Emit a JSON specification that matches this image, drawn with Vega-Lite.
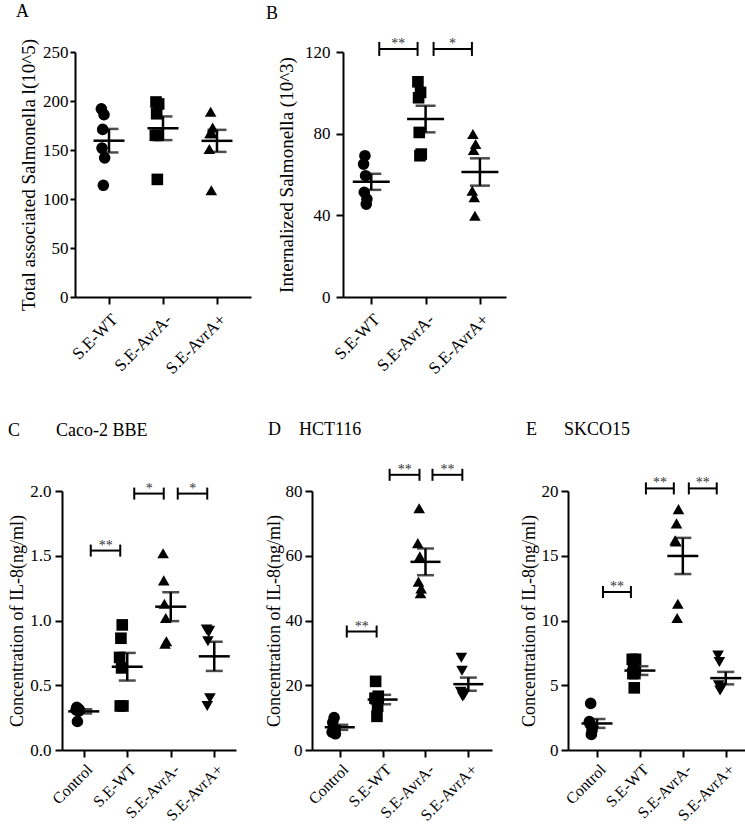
{
  "$schema": "https://vega.github.io/schema/vega-lite/v6.json",
  "padding": {"left": 8, "top": 2, "right": 0, "bottom": 0},
  "background": "white",
  "config": {
    "font": "Liberation Serif",
    "view": {"stroke": null},
    "axis": {"grid": false, "domainColor": "black", "domainWidth": 2, "tickColor": "black", "tickWidth": 2, "tickSize": 6, "labelFont": "Liberation Serif", "labelFontSize": 17, "labelColor": "black", "titleFont": "Liberation Serif", "titleFontSize": 19, "titleFontWeight": "normal", "titleColor": "black"},
    "axisX": {"labelAngle": -45, "title": null, "labelPadding": 3, "tickSize": 7},
    "title": {"anchor": "start", "frame": "group", "font": "Liberation Serif", "fontSize": 18, "fontWeight": "normal", "color": "black", "baseline": "alphabetic"},
    "point": {"filled": true, "color": "black", "opacity": 1, "size": 135},
    "tick": {"color": "black"},
    "rule": {"color": "black"},
    "text": {"color": "black"}
  },
  "datasets": {
    "A": [
      {"group": "S.E-WT", "rep": 1, "value": 192}, {"group": "S.E-WT", "rep": 2, "value": 152}, {"group": "S.E-WT", "rep": 3, "value": 171}, {"group": "S.E-WT", "rep": 4, "value": 114}, {"group": "S.E-WT", "rep": 5, "value": 186}, {"group": "S.E-WT", "rep": 6, "value": 142},
      {"group": "S.E-AvrA-", "rep": 1, "value": 165}, {"group": "S.E-AvrA-", "rep": 2, "value": 199}, {"group": "S.E-AvrA-", "rep": 3, "value": 187}, {"group": "S.E-AvrA-", "rep": 4, "value": 120}, {"group": "S.E-AvrA-", "rep": 5, "value": 165}, {"group": "S.E-AvrA-", "rep": 6, "value": 197},
      {"group": "S.E-AvrA+", "rep": 1, "value": 151}, {"group": "S.E-AvrA+", "rep": 2, "value": 167}, {"group": "S.E-AvrA+", "rep": 3, "value": 189}, {"group": "S.E-AvrA+", "rep": 4, "value": 109}, {"group": "S.E-AvrA+", "rep": 5, "value": 167}, {"group": "S.E-AvrA+", "rep": 6, "value": 173}
    ],
    "B": [
      {"group": "S.E-WT", "rep": 1, "value": 65.1}, {"group": "S.E-WT", "rep": 2, "value": 51.3}, {"group": "S.E-WT", "rep": 3, "value": 69.2}, {"group": "S.E-WT", "rep": 4, "value": 59.4}, {"group": "S.E-WT", "rep": 5, "value": 45.5}, {"group": "S.E-WT", "rep": 6, "value": 48.0},
      {"group": "S.E-AvrA-", "rep": 1, "value": 105.4}, {"group": "S.E-AvrA-", "rep": 2, "value": 97.6}, {"group": "S.E-AvrA-", "rep": 3, "value": 80.6}, {"group": "S.E-AvrA-", "rep": 4, "value": 69.2}, {"group": "S.E-AvrA-", "rep": 5, "value": 100.2}, {"group": "S.E-AvrA-", "rep": 6, "value": 70.0},
      {"group": "S.E-AvrA+", "rep": 1, "value": 52.0}, {"group": "S.E-AvrA+", "rep": 2, "value": 79.8}, {"group": "S.E-AvrA+", "rep": 3, "value": 72.0}, {"group": "S.E-AvrA+", "rep": 4, "value": 48.9}, {"group": "S.E-AvrA+", "rep": 5, "value": 39.8}, {"group": "S.E-AvrA+", "rep": 6, "value": 74.9}
    ],
    "C": [
      {"group": "Control", "rep": 1, "value": 0.31}, {"group": "Control", "rep": 2, "value": 0.33}, {"group": "Control", "rep": 3, "value": 0.22}, {"group": "Control", "rep": 4, "value": 0.32}, {"group": "Control", "rep": 5, "value": 0.30}, {"group": "Control", "rep": 6, "value": 0.31},
      {"group": "S.E-WT", "rep": 1, "value": 0.715}, {"group": "S.E-WT", "rep": 2, "value": 0.34}, {"group": "S.E-WT", "rep": 3, "value": 0.863}, {"group": "S.E-WT", "rep": 4, "value": 0.634}, {"group": "S.E-WT", "rep": 5, "value": 0.966}, {"group": "S.E-WT", "rep": 6, "value": 0.34},
      {"group": "S.E-AvrA-", "rep": 1, "value": 1.52}, {"group": "S.E-AvrA-", "rep": 2, "value": 1.31}, {"group": "S.E-AvrA-", "rep": 3, "value": 1.13}, {"group": "S.E-AvrA-", "rep": 4, "value": 0.82}, {"group": "S.E-AvrA-", "rep": 5, "value": 1.02}, {"group": "S.E-AvrA-", "rep": 6, "value": 0.84},
      {"group": "S.E-AvrA+", "rep": 1, "value": 0.93}, {"group": "S.E-AvrA+", "rep": 2, "value": 0.34}, {"group": "S.E-AvrA+", "rep": 3, "value": 0.84}, {"group": "S.E-AvrA+", "rep": 4, "value": 0.91}, {"group": "S.E-AvrA+", "rep": 5, "value": 0.92}, {"group": "S.E-AvrA+", "rep": 6, "value": 0.40}
    ],
    "D": [
      {"group": "Control", "rep": 1, "value": 5.5}, {"group": "Control", "rep": 2, "value": 8.5}, {"group": "Control", "rep": 3, "value": 7.0}, {"group": "Control", "rep": 4, "value": 10.0}, {"group": "Control", "rep": 5, "value": 6.0}, {"group": "Control", "rep": 6, "value": 5.0},
      {"group": "S.E-WT", "rep": 1, "value": 16.0}, {"group": "S.E-WT", "rep": 2, "value": 21.2}, {"group": "S.E-WT", "rep": 3, "value": 15.8}, {"group": "S.E-WT", "rep": 4, "value": 10.4}, {"group": "S.E-WT", "rep": 5, "value": 13.5}, {"group": "S.E-WT", "rep": 6, "value": 16.6},
      {"group": "S.E-AvrA-", "rep": 1, "value": 63.9}, {"group": "S.E-AvrA-", "rep": 2, "value": 52.0}, {"group": "S.E-AvrA-", "rep": 3, "value": 74.7}, {"group": "S.E-AvrA-", "rep": 4, "value": 59.8}, {"group": "S.E-AvrA-", "rep": 5, "value": 48.4}, {"group": "S.E-AvrA-", "rep": 6, "value": 49.9},
      {"group": "S.E-AvrA+", "rep": 1, "value": 18.0}, {"group": "S.E-AvrA+", "rep": 2, "value": 28.5}, {"group": "S.E-AvrA+", "rep": 3, "value": 24.5}, {"group": "S.E-AvrA+", "rep": 4, "value": 16.5}, {"group": "S.E-AvrA+", "rep": 5, "value": 17.5}, {"group": "S.E-AvrA+", "rep": 6, "value": 17.0}
    ],
    "E": [
      {"group": "Control", "rep": 1, "value": 2.2}, {"group": "Control", "rep": 2, "value": 2.0}, {"group": "Control", "rep": 3, "value": 3.6}, {"group": "Control", "rep": 4, "value": 1.2}, {"group": "Control", "rep": 5, "value": 1.5}, {"group": "Control", "rep": 6, "value": 1.8},
      {"group": "S.E-WT", "rep": 1, "value": 7.0}, {"group": "S.E-WT", "rep": 2, "value": 5.9}, {"group": "S.E-WT", "rep": 3, "value": 6.2}, {"group": "S.E-WT", "rep": 4, "value": 4.8}, {"group": "S.E-WT", "rep": 5, "value": 5.9}, {"group": "S.E-WT", "rep": 6, "value": 7.0},
      {"group": "S.E-AvrA-", "rep": 1, "value": 16.2}, {"group": "S.E-AvrA-", "rep": 2, "value": 16.1}, {"group": "S.E-AvrA-", "rep": 3, "value": 17.5}, {"group": "S.E-AvrA-", "rep": 4, "value": 10.2}, {"group": "S.E-AvrA-", "rep": 5, "value": 11.3}, {"group": "S.E-AvrA-", "rep": 6, "value": 18.6},
      {"group": "S.E-AvrA+", "rep": 1, "value": 7.3}, {"group": "S.E-AvrA+", "rep": 2, "value": 5.0}, {"group": "S.E-AvrA+", "rep": 3, "value": 6.8}, {"group": "S.E-AvrA+", "rep": 4, "value": 4.6}, {"group": "S.E-AvrA+", "rep": 5, "value": 4.8}, {"group": "S.E-AvrA+", "rep": 6, "value": 4.8}
    ],
    "brackets": [
      {"panel": "B", "g1": "S.E-WT", "g2": "S.E-AvrA-", "level": 121.5, "label": "**"},
      {"panel": "B", "g1": "S.E-AvrA-", "g2": "S.E-AvrA+", "level": 121.5, "label": "*"},
      {"panel": "C", "g1": "Control", "g2": "S.E-WT", "level": 1.54, "label": "**"},
      {"panel": "C", "g1": "S.E-WT", "g2": "S.E-AvrA-", "level": 1.98, "label": "*"},
      {"panel": "C", "g1": "S.E-AvrA-", "g2": "S.E-AvrA+", "level": 1.98, "label": "*"},
      {"panel": "D", "g1": "Control", "g2": "S.E-WT", "level": 36.6, "label": "**"},
      {"panel": "D", "g1": "S.E-WT", "g2": "S.E-AvrA-", "level": 85, "label": "**"},
      {"panel": "D", "g1": "S.E-AvrA-", "g2": "S.E-AvrA+", "level": 85, "label": "**"},
      {"panel": "E", "g1": "Control", "g2": "S.E-WT", "level": 12.2, "label": "**"},
      {"panel": "E", "g1": "S.E-WT", "g2": "S.E-AvrA-", "level": 20.2, "label": "**"},
      {"panel": "E", "g1": "S.E-AvrA-", "g2": "S.E-AvrA+", "level": 20.2, "label": "**"}
    ]
  },
  "bounds": "flush",
  "spacing": 439,
  "resolve": {"scale": {"shape": "independent"}},
  "vconcat": [
    {
      "bounds": "flush",
      "spacing": 0,
      "resolve": {"scale": {"shape": "independent"}},
      "hconcat": [
        {"width": 13, "height": 245, "data": {"values": []}, "mark": {"type": "point", "opacity": 0}, "encoding": {}},
        {
          "width": 176, "height": 245,
          "title": {"text": "A", "dx": -59, "offset": 18},
          "data": {"name": "A"},
          "encoding": {
            "x": {"field": "group", "type": "nominal", "scale": {"type": "point", "domain": ["S.E-WT", "S.E-AvrA-", "S.E-AvrA+"], "padding": 0.63, "align": 0.5}, "axis": {"labelPadding": 7}},
            "y": {"field": "value", "type": "quantitative", "scale": {"domain": [0, 250], "nice": false}, "axis": {"values": [0, 50, 100, 150, 200, 250], "title": "Total associated Salmonella l(10^5)", "tickSize": 5, "labelPadding": 2, "titlePadding": 4}}
          },
          "layer": [
            {"mark": {"type": "point", "filled": true}, "encoding": {
              "xOffset": {"field": "rep", "type": "ordinal", "scale": {"domain": [1, 2, 3, 4, 5, 6], "range": [-8, -4, 0, 0, 4, 8]}},
              "shape": {"field": "group", "type": "nominal", "scale": {"domain": ["S.E-WT", "S.E-AvrA-", "S.E-AvrA+"], "range": ["circle", "square", "triangle-up"]}, "legend": null}}},
            {"mark": {"type": "tick", "size": 31, "thickness": 2.5}, "encoding": {"y": {"aggregate": "mean", "field": "value", "type": "quantitative"}}},
            {"mark": {"type": "errorbar", "extent": "stderr", "ticks": true, "size": 19, "thickness": 2.5, "color": "black"}, "encoding": {}}
          ]
        },
        {"width": 92, "height": 245, "data": {"values": []}, "mark": {"type": "point", "opacity": 0}, "encoding": {}},
        {
          "width": 163, "height": 245,
          "title": {"text": "B", "dx": -77, "offset": 14},
          "layer": [
            {
              "data": {"name": "B"},
              "encoding": {
                "x": {"field": "group", "type": "nominal", "scale": {"type": "point", "domain": ["S.E-WT", "S.E-AvrA-", "S.E-AvrA+"], "padding": 0.5, "align": 0.52}, "axis": {"labelPadding": 7}},
                "y": {"field": "value", "type": "quantitative", "scale": {"domain": [0, 120], "nice": false}, "axis": {"values": [0, 40, 80, 120], "title": "Internalized Salmonella (10^3)", "tickSize": 7, "labelPadding": 6, "titlePadding": 8}}
              },
              "layer": [
                {"mark": {"type": "point", "filled": true}, "encoding": {
                  "xOffset": {"field": "rep", "type": "ordinal", "scale": {"domain": [1, 2, 3, 4, 5, 6], "range": [-8, -4, 0, 0, 4, 8]}},
                  "shape": {"field": "group", "type": "nominal", "scale": {"domain": ["S.E-WT", "S.E-AvrA-", "S.E-AvrA+"], "range": ["circle", "square", "triangle-up"]}, "legend": null}}},
                {"mark": {"type": "tick", "size": 37, "thickness": 2.5}, "encoding": {"y": {"aggregate": "mean", "field": "value", "type": "quantitative"}}},
                {"mark": {"type": "errorbar", "extent": "stderr", "ticks": true, "size": 20, "thickness": 2.5, "color": "black"}, "encoding": {}}
              ]
            },
            {
              "data": {"name": "brackets"},
              "transform": [{"filter": "datum.panel === 'B'"}],
              "layer": [
                {"mark": {"type": "rule", "strokeWidth": 2, "xOffset": 8, "x2Offset": -8}, "encoding": {"x": {"field": "g1", "type": "nominal"}, "x2": {"field": "g2"}, "y": {"field": "level", "type": "quantitative"}}},
                {"mark": {"type": "rule", "strokeWidth": 2, "xOffset": 8, "yOffset": -7, "y2Offset": 7}, "encoding": {"x": {"field": "g1", "type": "nominal"}, "y": {"field": "level", "type": "quantitative"}, "y2": {"field": "level"}}},
                {"mark": {"type": "rule", "strokeWidth": 2, "xOffset": -8, "yOffset": -7, "y2Offset": 7}, "encoding": {"x": {"field": "g2", "type": "nominal"}, "y": {"field": "level", "type": "quantitative"}, "y2": {"field": "level"}}},
                {"mark": {"type": "text", "fontSize": 14, "xOffset": 27, "yOffset": -1, "baseline": "alphabetic", "align": "center", "color": "#333333"}, "encoding": {"x": {"field": "g1", "type": "nominal"}, "y": {"field": "level", "type": "quantitative"}, "text": {"field": "label"}}}
              ]
            }
          ]
        }
      ]
    },
    {
      "bounds": "flush",
      "spacing": 76,
      "resolve": {"scale": {"shape": "independent"}},
      "hconcat": [
        {
          "width": 174, "height": 259,
          "title": {"text": "C\u00a0\u00a0\u00a0\u00a0\u00a0\u00a0\u00a0\u00a0Caco-2 BBE", "dx": -54, "offset": 42},
          "layer": [
            {
              "data": {"name": "C"},
              "encoding": {
                "x": {"field": "group", "type": "nominal", "scale": {"type": "point", "domain": ["Control", "S.E-WT", "S.E-AvrA-", "S.E-AvrA+"], "padding": 0.5, "align": 0.5}, "axis": {"labelFontSize": 16, "labelPadding": 4}},
                "y": {"field": "value", "type": "quantitative", "scale": {"domain": [0, 2], "nice": false}, "axis": {"values": [0, 0.5, 1, 1.5, 2], "format": ".1f", "title": "Concentration of IL-8(ng/ml)", "titleFontSize": 18, "tickSize": 7, "labelPadding": 4, "titlePadding": 3}}
              },
              "layer": [
                {"mark": {"type": "point", "filled": true}, "encoding": {
                  "xOffset": {"field": "rep", "type": "ordinal", "scale": {"domain": [1, 2, 3, 4, 5, 6], "range": [-8, -4, 0, 0, 4, 8]}},
                  "shape": {"field": "group", "type": "nominal", "scale": {"domain": ["Control", "S.E-WT", "S.E-AvrA-", "S.E-AvrA+"], "range": ["circle", "square", "triangle-up", "triangle-down"]}, "legend": null}}},
                {"mark": {"type": "tick", "size": 31, "thickness": 2.5}, "encoding": {"y": {"aggregate": "mean", "field": "value", "type": "quantitative"}}},
                {"mark": {"type": "errorbar", "extent": "stderr", "ticks": true, "size": 17, "thickness": 2.5, "color": "black"}, "encoding": {}}
              ]
            },
            {
              "data": {"name": "brackets"},
              "transform": [{"filter": "datum.panel === 'C'"}],
              "layer": [
                {"mark": {"type": "rule", "strokeWidth": 2, "xOffset": 7, "x2Offset": -7}, "encoding": {"x": {"field": "g1", "type": "nominal"}, "x2": {"field": "g2"}, "y": {"field": "level", "type": "quantitative"}}},
                {"mark": {"type": "rule", "strokeWidth": 2, "xOffset": 7, "yOffset": -6, "y2Offset": 6}, "encoding": {"x": {"field": "g1", "type": "nominal"}, "y": {"field": "level", "type": "quantitative"}, "y2": {"field": "level"}}},
                {"mark": {"type": "rule", "strokeWidth": 2, "xOffset": -7, "yOffset": -6, "y2Offset": 6}, "encoding": {"x": {"field": "g2", "type": "nominal"}, "y": {"field": "level", "type": "quantitative"}, "y2": {"field": "level"}}},
                {"mark": {"type": "text", "fontSize": 14, "xOffset": 22, "yOffset": -1, "baseline": "alphabetic", "align": "center", "color": "#333333"}, "encoding": {"x": {"field": "g1", "type": "nominal"}, "y": {"field": "level", "type": "quantitative"}, "text": {"field": "label"}}}
              ]
            }
          ]
        },
        {
          "width": 180, "height": 259,
          "title": {"text": "D\u00a0\u00a0\u00a0\u00a0HCT116", "dx": -44, "offset": 24},
          "layer": [
            {
              "data": {"name": "D"},
              "encoding": {
                "x": {"field": "group", "type": "nominal", "scale": {"type": "point", "domain": ["Control", "S.E-WT", "S.E-AvrA-", "S.E-AvrA+"], "padding": 0.6, "align": 0.54}, "axis": {"labelFontSize": 16, "labelPadding": 4}},
                "y": {"field": "value", "type": "quantitative", "scale": {"domain": [0, 80], "nice": false}, "axis": {"values": [0, 20, 40, 60, 80], "title": "Concentration of IL-8(ng/ml)", "titleFontSize": 18, "tickSize": 7, "labelPadding": 3, "titlePadding": 2}}
              },
              "layer": [
                {"mark": {"type": "point", "filled": true}, "encoding": {
                  "xOffset": {"field": "rep", "type": "ordinal", "scale": {"domain": [1, 2, 3, 4, 5, 6], "range": [-8, -4, 0, 0, 4, 8]}},
                  "shape": {"field": "group", "type": "nominal", "scale": {"domain": ["Control", "S.E-WT", "S.E-AvrA-", "S.E-AvrA+"], "range": ["circle", "square", "triangle-up", "triangle-down"]}, "legend": null}}},
                {"mark": {"type": "tick", "size": 30, "thickness": 2.5}, "encoding": {"y": {"aggregate": "mean", "field": "value", "type": "quantitative"}}},
                {"mark": {"type": "errorbar", "extent": "stderr", "ticks": true, "size": 17, "thickness": 2.5, "color": "black"}, "encoding": {}}
              ]
            },
            {
              "data": {"name": "brackets"},
              "transform": [{"filter": "datum.panel === 'D'"}],
              "layer": [
                {"mark": {"type": "rule", "strokeWidth": 2, "xOffset": 7, "x2Offset": -6}, "encoding": {"x": {"field": "g1", "type": "nominal"}, "x2": {"field": "g2"}, "y": {"field": "level", "type": "quantitative"}}},
                {"mark": {"type": "rule", "strokeWidth": 2, "xOffset": 7, "yOffset": -6, "y2Offset": 6}, "encoding": {"x": {"field": "g1", "type": "nominal"}, "y": {"field": "level", "type": "quantitative"}, "y2": {"field": "level"}}},
                {"mark": {"type": "rule", "strokeWidth": 2, "xOffset": -6, "yOffset": -6, "y2Offset": 6}, "encoding": {"x": {"field": "g2", "type": "nominal"}, "y": {"field": "level", "type": "quantitative"}, "y2": {"field": "level"}}},
                {"mark": {"type": "text", "fontSize": 14, "xOffset": 22, "yOffset": -1, "baseline": "alphabetic", "align": "center", "color": "#333333"}, "encoding": {"x": {"field": "g1", "type": "nominal"}, "y": {"field": "level", "type": "quantitative"}, "text": {"field": "label"}}}
              ]
            }
          ]
        },
        {
          "width": 179, "height": 259,
          "title": {"text": "E\u00a0\u00a0\u00a0\u00a0\u00a0\u00a0SKCO15", "dx": -42, "offset": 37},
          "layer": [
            {
              "data": {"name": "E"},
              "encoding": {
                "x": {"field": "group", "type": "nominal", "scale": {"type": "point", "domain": ["Control", "S.E-WT", "S.E-AvrA-", "S.E-AvrA+"], "padding": 0.586, "align": 0.577}, "axis": {"labelFontSize": 16, "labelPadding": 4}},
                "y": {"field": "value", "type": "quantitative", "scale": {"domain": [0, 20], "nice": false}, "axis": {"values": [0, 5, 10, 15, 20], "title": "Concentration of IL-8(ng/ml)", "titleFontSize": 18, "tickSize": 7, "labelPadding": 3, "titlePadding": 3}}
              },
              "layer": [
                {"mark": {"type": "point", "filled": true}, "encoding": {
                  "xOffset": {"field": "rep", "type": "ordinal", "scale": {"domain": [1, 2, 3, 4, 5, 6], "range": [-8, -4, 0, 0, 4, 8]}},
                  "shape": {"field": "group", "type": "nominal", "scale": {"domain": ["Control", "S.E-WT", "S.E-AvrA-", "S.E-AvrA+"], "range": ["circle", "square", "triangle-up", "triangle-down"]}, "legend": null}}},
                {"mark": {"type": "tick", "size": 31, "thickness": 2.5}, "encoding": {"y": {"aggregate": "mean", "field": "value", "type": "quantitative"}}},
                {"mark": {"type": "errorbar", "extent": "stderr", "ticks": true, "size": 17, "thickness": 2.5, "color": "black"}, "encoding": {}}
              ]
            },
            {
              "data": {"name": "brackets"},
              "transform": [{"filter": "datum.panel === 'E'"}],
              "layer": [
                {"mark": {"type": "rule", "strokeWidth": 2, "xOffset": 6, "x2Offset": -9}, "encoding": {"x": {"field": "g1", "type": "nominal"}, "x2": {"field": "g2"}, "y": {"field": "level", "type": "quantitative"}}},
                {"mark": {"type": "rule", "strokeWidth": 2, "xOffset": 6, "yOffset": -6, "y2Offset": 6}, "encoding": {"x": {"field": "g1", "type": "nominal"}, "y": {"field": "level", "type": "quantitative"}, "y2": {"field": "level"}}},
                {"mark": {"type": "rule", "strokeWidth": 2, "xOffset": -9, "yOffset": -6, "y2Offset": 6}, "encoding": {"x": {"field": "g2", "type": "nominal"}, "y": {"field": "level", "type": "quantitative"}, "y2": {"field": "level"}}},
                {"mark": {"type": "text", "fontSize": 14, "xOffset": 20, "yOffset": -1, "baseline": "alphabetic", "align": "center", "color": "#333333"}, "encoding": {"x": {"field": "g1", "type": "nominal"}, "y": {"field": "level", "type": "quantitative"}, "text": {"field": "label"}}}
              ]
            }
          ]
        }
      ]
    }
  ]
}
